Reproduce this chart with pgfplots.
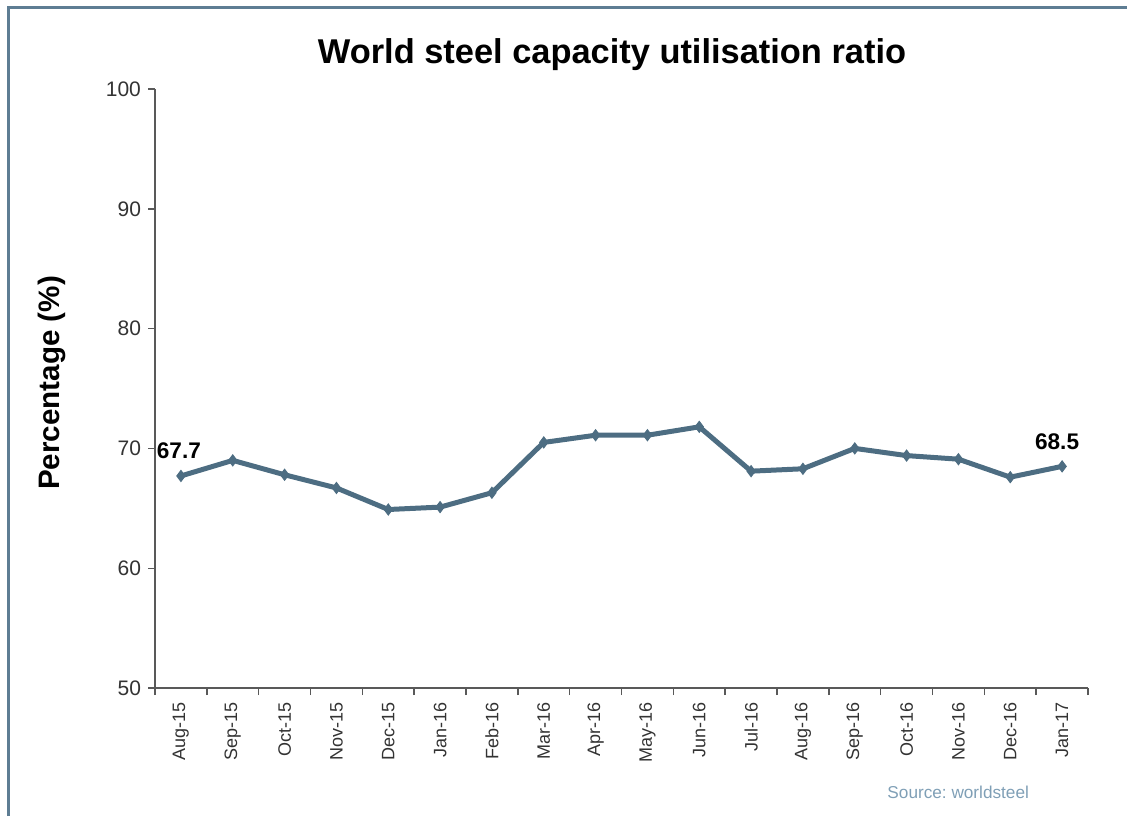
\documentclass[border=0pt]{standalone}
\usepackage{pgfplots}
\pgfplotsset{compat=1.18}
\usepackage{fontspec}
\setmainfont{Liberation Sans}
\frenchspacing
\newlength\px
\setlength\px{0.5pt}
\definecolor{linec}{HTML}{4D6D82}
\definecolor{axisgrey}{HTML}{595959}
\definecolor{ticktext}{HTML}{333333}
\definecolor{framec}{HTML}{5E7D93}
\definecolor{srcc}{HTML}{7F9FB6}

\begin{document}
\begin{tikzpicture}
\path[use as bounding box] (0,0) rectangle (1127\px,816\px);
% frame (top and left edges visible)
\draw[framec, line width=3\px] (8.5\px,0) -- (8.5\px,808.5\px) -- (1127\px,808.5\px);

\begin{axis}[
    at={(155\px,128\px)}, anchor=south west,
    scale only axis, width=933\px, height=599\px,
    xmin=-0.5, xmax=17.5, ymin=50, ymax=100,
    axis lines=left,
    axis line style={-, draw=axisgrey, line width=1.4\px},
    clip=false,
    ytick={50,60,...,100},
    xtick={0,...,17},
    xticklabels={Aug-15,Sep-15,Oct-15,Nov-15,Dec-15,Jan-16,Feb-16,Mar-16,Apr-16,May-16,Jun-16,Jul-16,Aug-16,Sep-16,Oct-16,Nov-16,Dec-16,Jan-17},
    minor xtick={-0.5,0.5,...,17.5},
    major x tick style={draw=none},
    minor x tick style={draw=axisgrey, line width=1.4\px},
    y tick style={draw=axisgrey, line width=1.4\px},
    tick align=outside,
    major tick length=7\px, minor tick length=7\px,
    /pgf/number format/assume math mode=true,
    x tick label style={rotate=90, anchor=east, text=ticktext, font=\fontsize{9}{10}\selectfont},
    y tick label style={text=ticktext, font=\fontsize{10.5}{12}\selectfont},
]
\addplot[color=linec, line width=5\px, mark=diamond*, mark size=5.5\px,
         mark options={fill=linec, draw=linec, line width=1\px}] coordinates {
    (0,67.7) (1,69.0) (2,67.8) (3,66.7) (4,64.9) (5,65.1) (6,66.3)
    (7,70.5) (8,71.1) (9,71.1) (10,71.8) (11,68.1) (12,68.3) (13,70.0)
    (14,69.4) (15,69.1) (16,67.6) (17,68.5)
};
\node[anchor=south, yshift=10\px, xshift=-2\px, font=\bfseries\fontsize{11.3}{12}\selectfont] at (axis cs:0,67.7) {67.7};
\node[anchor=south, yshift=10\px, xshift=-5\px, font=\bfseries\fontsize{11.3}{12}\selectfont] at (axis cs:17,68.5) {68.5};
\end{axis}

\node[font=\bfseries\fontsize{17.2}{20}\selectfont] at (612\px,761\px) {World steel capacity utilisation ratio};
\node[rotate=90, font=\bfseries\fontsize{14.8}{17}\selectfont] at (52\px,433\px) {Percentage (\%)};
\node[anchor=east, text=srcc, font=\fontsize{8.6}{10}\selectfont] at (1036\px,24\px) {Source: worldsteel};
\end{tikzpicture}
\end{document}
